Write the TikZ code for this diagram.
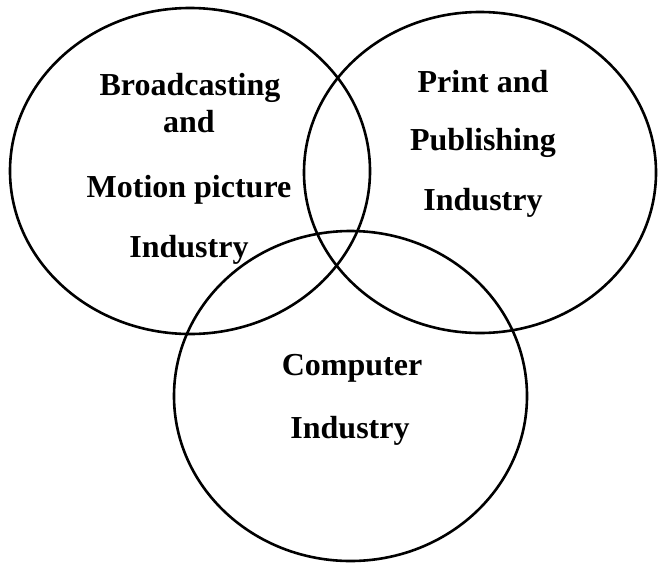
\documentclass[tikz,border=0pt]{standalone}
\usepackage{fontspec}
\setmainfont{Liberation Serif}
\usetikzlibrary{shapes.geometric}
\begin{document}
\begin{tikzpicture}[x=1pt,y=-1pt,
  ring/.style={draw=black,line width=2.6pt,ellipse,inner sep=0pt},
  lbl/.style={anchor=base,inner sep=0pt,font=\fontsize{32}{36}\selectfont\bfseries}]
\useasboundingbox (0,0) rectangle (658,565);
\fill[white] (0,0) rectangle (658,565);
\node[ring,minimum width=360pt,minimum height=326pt] (left) at (190,171) {};
\node[ring,minimum width=352pt,minimum height=321pt] (right) at (480,172.5) {};
\node[ring,minimum width=353pt,minimum height=330pt] (bottom) at (350.5,396) {};
\node[lbl] (l1) at (190,95) {Broadcasting};
\node[lbl] (l2) at (189,132) {and};
\node[lbl] (l3) at (189,197) {Motion picture};
\node[lbl] (l4) at (189,257) {Industry};
\node[lbl] (r1) at (483,92) {Print and};
\node[lbl] (r2) at (483,150) {Publishing};
\node[lbl] (r3) at (483,210) {Industry};
\node[lbl] (b1) at (352,375) {Computer};
\node[lbl] (b2) at (350,438) {Industry};
\end{tikzpicture}
\end{document}
